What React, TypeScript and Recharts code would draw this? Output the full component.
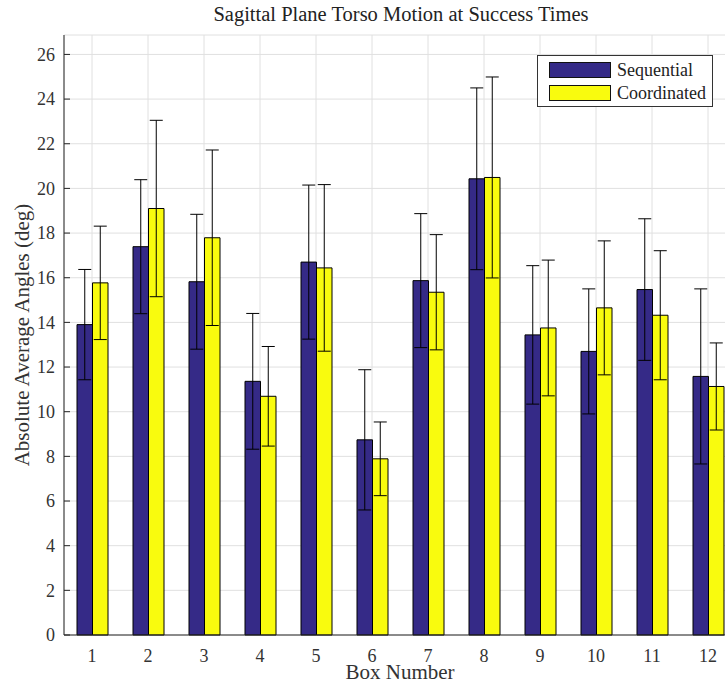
import React from 'react';
import { BarChart, Bar, XAxis, YAxis, CartesianGrid, ErrorBar } from 'recharts';

const boxes = ['1', '2', '3', '4', '5', '6', '7', '8', '9', '10', '11', '12'];
const sequential = [13.9, 17.39, 15.82, 11.36, 16.7, 8.74, 15.87, 20.43, 13.44, 12.7, 15.47, 11.58];
const sequentialErr = [2.47, 3.0, 3.02, 3.04, 3.45, 3.14, 3.0, 4.07, 3.1, 2.8, 3.17, 3.92];
const coordinated = [15.77, 19.1, 17.79, 10.69, 16.44, 7.89, 15.35, 20.49, 13.75, 14.65, 14.32, 11.13];
const coordinatedErr = [2.54, 3.95, 3.93, 2.23, 3.73, 1.65, 2.58, 4.5, 3.04, 3.0, 2.89, 1.95];
const yTicks = [0, 2, 4, 6, 8, 10, 12, 14, 16, 18, 20, 22, 24, 26];
const legendItems = [
  { name: 'Sequential', key: 'seq' },
  { name: 'Coordinated', key: 'coord' },
];

const SEQ = '#352a87';
const COORD = '#f9fb0e';
const FONT = '"Liberation Serif", "Times New Roman", serif';
const colorOf: Record<string, string> = { seq: SEQ, coord: COORD };

const data = boxes.map((box, i) => ({
  box,
  seq: sequential[i],
  seqErr: sequentialErr[i],
  coord: coordinated[i],
  coordErr: coordinatedErr[i],
}));

const LegendBox = () => (
  <div
    style={{
      position: 'absolute',
      left: 537,
      top: 55,
      border: '1px solid #333',
      background: '#fff',
      width: 176,
      height: 52,
      boxSizing: 'border-box',
      padding: '6px 0 0 11px',
      fontFamily: FONT,
      fontSize: 18,
      color: '#222',
      zIndex: 2,
    }}
  >
    {legendItems.map((item) => (
      <div
        key={item.key}
        style={{ display: 'flex', alignItems: 'center', height: 16, lineHeight: '16px', marginBottom: 6.5 }}
      >
        <span
          style={{
            display: 'inline-block',
            width: 62,
            height: 16,
            boxSizing: 'border-box',
            background: colorOf[item.key],
            border: '1px solid #111',
            marginRight: 6,
          }}
        />
        <span>{item.name}</span>
      </div>
    ))}
  </div>
);

const App: React.FC = () => {
  return (
    <div
      style={{
        position: 'fixed',
        left: 0,
        top: 0,
        width: 725,
        height: 683,
        overflow: 'hidden',
        background: '#fff',
      }}
    >
      <div
        style={{
          position: 'absolute',
          left: 0,
          top: 3,
          width: 802,
          textAlign: 'center',
          fontFamily: FONT,
          fontSize: 20.5,
          color: '#222',
          zIndex: 2,
        }}
      >
        Sagittal Plane Torso Motion at Success Times
      </div>
      <LegendBox />
      <BarChart
        width={770}
        height={683}
        data={data}
        margin={{ top: 35, right: 34, bottom: 0, left: 0 }}
        barGap={0}
        barSize={15.5}
      >
        <CartesianGrid stroke="#e0e0e0" strokeWidth={1} />
        <XAxis
          dataKey="box"
          height={48}
          tickLine={false}
          tickSize={0}
          tickMargin={14}
          axisLine={{ stroke: '#262626' }}
          tick={{ fill: '#333', fontSize: 18, fontFamily: FONT }}
          interval={0}
          label={{
            value: 'Box Number',
            position: 'insideBottom',
            offset: 4,
            fill: '#333',
            fontSize: 21,
            fontFamily: FONT,
          }}
        />
        <XAxis
          xAxisId="top"
          dataKey="box"
          orientation="top"
          height={0}
          tick={false}
          tickSize={-5}
          axisLine={{ stroke: '#262626' }}
          tickLine={{ stroke: '#262626' }}
          interval={0}
        />
        <YAxis
          type="number"
          domain={[0, 26.87]}
          ticks={yTicks}
          width={64}
          tickSize={-6}
          tickMargin={15}
          axisLine={{ stroke: '#262626' }}
          tickLine={{ stroke: '#262626' }}
          tick={{ fill: '#333', fontSize: 18, fontFamily: FONT }}
          label={{
            value: 'Absolute Average Angles (deg)',
            angle: -90,
            position: 'insideLeft',
            offset: 22,
            textAnchor: 'middle',
            fill: '#333',
            fontSize: 21,
            fontFamily: FONT,
          }}
        />
        <Bar dataKey="seq" name="Sequential" fill={SEQ} stroke="#000" strokeWidth={1} isAnimationActive={false}>
          <ErrorBar dataKey="seqErr" width={6.5} stroke="#000" strokeWidth={1} direction="y" />
        </Bar>
        <Bar dataKey="coord" name="Coordinated" fill={COORD} stroke="#000" strokeWidth={1} isAnimationActive={false}>
          <ErrorBar dataKey="coordErr" width={6.5} stroke="#000" strokeWidth={1} direction="y" />
        </Bar>
      </BarChart>
    </div>
  );
};

export default App;
